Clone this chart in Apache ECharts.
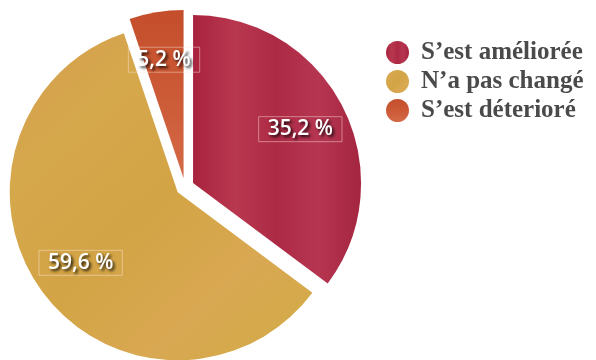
<!DOCTYPE html>
<html>
<head>
<meta charset="utf-8">
<script src="https://cdn.jsdelivr.net/npm/echarts@6/dist/echarts.min.js"></script>
<style>
  html, body { margin: 0; padding: 0; background: #ffffff; }
  #chart { width: 596px; height: 360px; }
</style>
</head>
<body>
<div id="chart"></div>
<script>
// Answer shares (%)
const categories = ["S\u2019est améliorée", "N\u2019a pas changé", "S\u2019est déterioré"];
const shares = [35.2, 59.6, 5.2];

// Slightly streaked fills for each slice
function grad(stops, x2, y2) {
  return new echarts.graphic.LinearGradient(0, 0, x2, y2,
    stops.map((c, i) => ({ offset: i / (stops.length - 1), color: c })));
}
const fills = [
  grad(["#a9233f", "#b8384f", "#ad2a45", "#b63652", "#a42540"], 1, 0),
  grad(["#d49d4e", "#d6a84c", "#d3a445", "#d9a852", "#d1ab45"], 1, 1),
  grad(["#c44e2c", "#cc5a36", "#d46a48"], 0, 1)
];

const fmt = v => String(v).replace('.', ',') + ' %';

const pieData = categories.map((name, i) => ({
  name, value: shares[i], selected: true,
  itemStyle: { color: fills[i] }
}));

const center = [185, 187];
const radius = 168;

const chart = echarts.init(document.getElementById('chart'), null, { renderer: 'canvas' });
chart.setOption({
  animation: false,
  legend: {
    orient: 'vertical',
    left: 381, top: 35,
    icon: 'circle',
    itemWidth: 23, itemHeight: 23, itemGap: 4,
    selectedMode: false,
    data: categories,
    textStyle: {
      fontFamily: 'Liberation Serif',
      fontSize: 25, fontWeight: 'bold', lineHeight: 23,
      color: '#4a4a4a', padding: [0, 0, 0, 7]
    }
  },
  series: [
    {
      type: 'pie',
      center, radius,
      startAngle: 90,
      selectedMode: 'multiple',
      selectedOffset: 9,
      label: { show: false },
      labelLine: { show: false },
      emphasis: { scale: false },
      data: pieData
    },
    {
      // label carrier: transparent ring whose mid-radius sits at ~0.7 r
      type: 'pie',
      center, radius: [66, radius],
      startAngle: 90,
      silent: true,
      selectedMode: 'multiple',
      selectedOffset: 9,
      itemStyle: { color: 'rgba(0,0,0,0)' },
      labelLine: { show: false },
      emphasis: { scale: false },
      label: {
        show: true,
        position: 'inside',
        formatter: p => fmt(p.value),
        color: '#ffffff',
        fontFamily: 'Open Sans',
        fontSize: 21,
        fontWeight: 600,
        lineHeight: 22,
        textShadowColor: 'rgba(0,0,0,0.85)',
        textShadowBlur: 3,
        textShadowOffsetX: 2,
        textShadowOffsetY: 2,
        borderColor: 'rgba(255,235,225,0.45)',
        borderWidth: 1,
        padding: [2, 9, 1, 9]
      },
      data: categories.map((name, i) => ({ name, value: shares[i], selected: true }))
    }
  ]
});
</script>
</body>
</html>
